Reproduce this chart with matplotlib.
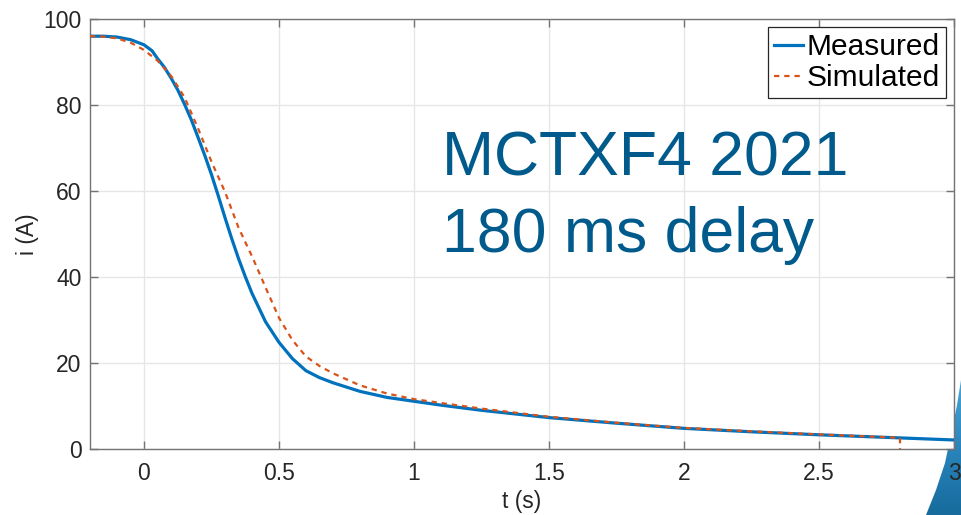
import numpy as np
import matplotlib
matplotlib.use("Agg")
import matplotlib.pyplot as plt
from matplotlib.patches import Polygon

plt.rcParams['font.family'] = ['Liberation Sans', 'DejaVu Sans']

# Measured current decay
t_meas = [-0.2, -0.15, -0.1, -0.05, 0.0, 0.03, 0.05, 0.075, 0.1, 0.125, 0.15, 0.175,
          0.2, 0.225, 0.25, 0.275, 0.3, 0.325, 0.35, 0.375, 0.4, 0.45, 0.5, 0.55,
          0.6, 0.65, 0.7, 0.8, 0.9, 1.0, 1.1, 1.25, 1.5, 1.75, 2.0, 2.25, 2.5,
          2.75, 3.0]
i_meas = [96.0, 96.0, 95.8, 95.2, 94.0, 92.6, 90.8, 88.8, 86.3, 83.5, 80.2, 76.6,
          72.5, 68.3, 63.8, 58.9, 53.8, 48.9, 44.3, 40.1, 36.2, 29.6, 24.8, 21.0,
          18.2, 16.6, 15.4, 13.4, 12.0, 11.1, 10.2, 9.0, 7.3, 6.0, 4.8, 4.0, 3.3,
          2.7, 2.1]

# Simulated current decay
t_sim = [-0.2, -0.15, -0.1, -0.05, 0.0, 0.05, 0.1, 0.15, 0.2, 0.25, 0.3, 0.35,
         0.4, 0.43, 0.45, 0.5, 0.55, 0.6, 0.65, 0.7, 0.8, 0.9, 1.0, 1.1, 1.25,
         1.5, 1.75, 2.0, 2.25, 2.5, 2.8, 2.8]
i_sim = [96.0, 95.9, 95.5, 94.5, 92.8, 90.3, 86.8, 81.8, 74.6, 66.8, 59.8, 51.5,
         44.8, 40.5, 37.6, 30.5, 25.3, 21.5, 19.3, 17.6, 14.8, 12.9, 11.6, 10.7,
         9.4, 7.5, 6.1, 4.9, 4.1, 3.4, 2.6, 0.0]

x_ticks = [0, 0.5, 1, 1.5, 2, 2.5, 3]
x_tick_labels = ["0", "0.5", "1", "1.5", "2", "2.5", "3"]
y_ticks = [0, 20, 40, 60, 80, 100]

W, H = 961, 515
fig = plt.figure(figsize=(W / 100, H / 100), dpi=100)
fig.patch.set_facecolor("white")

# Decorative swoosh in the lower-right corner
bg = fig.add_axes([0, 0, 1, 1], zorder=-1)
bg.set_xlim(0, W)
bg.set_ylim(H, 0)
bg.axis("off")
grad = np.linspace(0, 1, 256).reshape(-1, 1)
im = bg.imshow(np.hstack([grad, grad]), extent=[915, W, H, 375],
               cmap=matplotlib.colors.LinearSegmentedColormap.from_list(
                   "sw", ["#4fa9d8", "#2a86bd", "#176b9d"]),
               aspect="auto", origin="upper")
poly = Polygon([(W, 380), (957, 405), (952, 430), (945, 463), (936, 490),
                (926, H), (W, H)], closed=True, transform=bg.transData,
               facecolor="none", edgecolor="none")
bg.add_patch(poly)
im.set_clip_path(poly)

ax = fig.add_axes([90 / W, 1 - 449 / H, (954 - 90) / W, (449 - 19) / H])
ax.set_facecolor("white")

ax.plot(t_meas, i_meas, color="#0072bd", lw=2.3, label="Measured", zorder=3)
ax.plot(t_sim, i_sim, color="#d95319", lw=1.6, ls=(0, (2.4, 2.2)),
        label="Simulated", zorder=4)

ax.set_xlim(-0.2, 3)
ax.set_ylim(0, 100)
ax.set_xticks(x_ticks)
ax.set_xticklabels(x_tick_labels)
ax.set_yticks(y_ticks)

ax.grid(True, color="#e6e6e6", lw=1.0)
ax.set_axisbelow(True)
for s in ax.spines.values():
    s.set_color("#737373")
    s.set_linewidth(1.0)
ax.tick_params(direction="in", length=6, width=1.0, color="#737373",
               labelsize=16.5, labelcolor="#262626", top=True, right=True,
               pad=6)
ax.tick_params(axis="x", pad=9)

ax.set_xlabel("t (s)", fontsize=16.5, color="#262626", labelpad=4)
ax.set_ylabel("i (A)", fontsize=16.5, color="#262626", labelpad=3)

leg = ax.legend(loc="upper right", fontsize=21.5, handlelength=1.0,
                handletextpad=0.1, borderpad=0.2, labelspacing=0.1,
                borderaxespad=0.28, fancybox=False, framealpha=1)
leg.get_frame().set_edgecolor("#262626")
leg.get_frame().set_linewidth(0.9)

ax.text(1.104, 63.7, "MCTXF4 2021", fontsize=45, color="#005b8c",
        va="baseline", ha="left")
ax.text(1.104, 45.8, "180 ms delay", fontsize=45, color="#005b8c",
        va="baseline", ha="left")

fig.savefig("out.png", dpi=100)
